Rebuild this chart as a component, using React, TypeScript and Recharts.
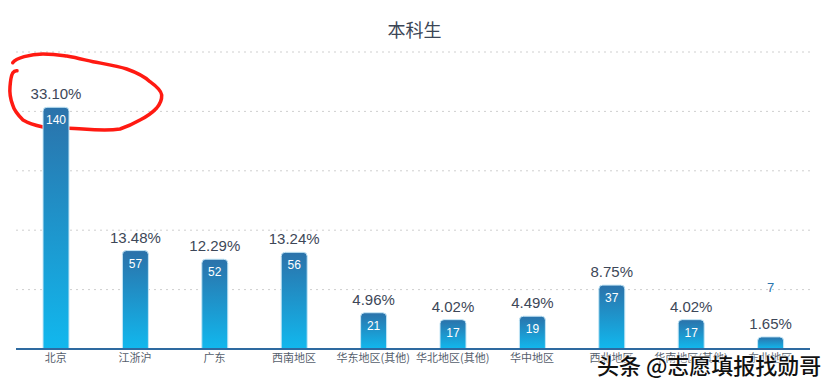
import React from "react";
import {
  BarChart,
  Bar,
  XAxis,
  YAxis,
  CartesianGrid,
  LabelList,
  Customized,
} from "recharts";

const categories = [
  "北京",
  "江浙沪",
  "广东",
  "西南地区",
  "华东地区(其他)",
  "华北地区(其他)",
  "华中地区",
  "西北地区",
  "华南地区(其他)",
  "东北地区",
];
const counts = [140, 57, 52, 56, 21, 17, 19, 37, 17, 7];
const percents = ["33.10%", "13.48%", "12.29%", "13.24%", "4.96%", "4.02%", "4.49%", "8.75%", "4.02%", "1.65%"];
const yTicks = [0, 34.4, 68.8, 103.2, 137.6, 172];

const data = categories.map((name, i) => ({ name, count: counts[i], pct: percents[i] }));

const NUM_FONT = "'Liberation Sans', Arial, 'Noto Sans CJK SC', sans-serif";
const CJK_FONT = "'Noto Sans CJK SC', 'Liberation Sans', sans-serif";

// 퍼센트 라벨 (막대 위)
const PctLabel = (props: any) => {
  const { x, y, width, value } = props;
  return (
    <text
      x={x + width / 2}
      y={y - 8}
      textAnchor="middle"
      fontSize={15}
      fontFamily={NUM_FONT}
      fill="#3d4758"
    >
      {value}
    </text>
  );
};

// 값 라벨: 막대 안쪽, 막대가 너무 짧으면 위쪽에 표시
const CountLabel = (props: any) => {
  const { x, y, width, height, value } = props;
  const small = height < 20;
  return (
    <text
      x={x + width / 2}
      y={small ? y - 45 : y + 17}
      textAnchor="middle"
      fontSize={small ? 13 : 12}
      fontFamily={NUM_FONT}
      fill={small ? "#2b74ad" : "#ffffff"}
    >
      {value}
    </text>
  );
};

// 손으로 그린 빨간 동그라미 표시
const RedCircle = () => (
  <path
    d="M12.7,62.7 C16,58 30,54 43,54 C55,54 60,55 66.7,56 C78,58 85,60 93,61.7 C105,64 118,66 126.7,69 C138,73 145,77 150,81.7 C156,86 161,90 161.7,95 C162,101 160,104 156.7,108 C152,113 146,117 140,120 C133,124 126,127 120,129 C108,131 95,130 83,129 C68,128 55,128 43,127 C34,125 28,123 23,120 C18,115 14,110 12.7,105 C10,98 9.5,92 10,86.7 C10.5,80 11,76 12.7,73 C14,71 15.5,70.5 17,70.7"
    fill="none"
    stroke="#ff1a12"
    strokeWidth={3.5}
    strokeLinecap="round"
    strokeLinejoin="round"
  />
);

export default function App() {
  return (
    <div
      style={{
        position: "absolute",
        left: 0,
        top: 0,
        width: 829,
        height: 387,
        background: "#ffffff",
        overflow: "hidden",
      }}
    >
      <div
        style={{
          position: "absolute",
          top: 16,
          left: 0,
          width: 829,
          textAlign: "center",
          fontFamily: CJK_FONT,
          fontSize: 18,
          color: "#3c4656",
        }}
      >
        本科生
      </div>
      <BarChart
        width={829}
        height={387}
        data={data}
        margin={{ top: 52, right: 19, bottom: 8, left: 16 }}
      >
        <defs>
          <linearGradient id="barGrad" x1="0" y1="0" x2="0" y2="1">
            <stop offset="0%" stopColor="#2b72aa" />
            <stop offset="100%" stopColor="#11b8ee" />
          </linearGradient>
        </defs>
        <CartesianGrid
          vertical={false}
          stroke="#cfcfcf"
          strokeDasharray="2 4"
        />
        <YAxis hide domain={[0, 172]} ticks={yTicks} />
        <XAxis
          dataKey="name"
          interval={0}
          tickLine={false}
          tickSize={0}
          tickMargin={5}
          height={30}
          axisLine={{ stroke: "#2e6aa0", strokeWidth: 2 }}
          tick={{ fontSize: 11, fill: "#555e6c", fontFamily: CJK_FONT }}
        />
        <Bar
          dataKey="count"
          barSize={26}
          fill="url(#barGrad)"
          stroke="#c4e6f6"
          strokeWidth={1}
          radius={[4, 4, 0, 0]}
          isAnimationActive={false}
        >
          <LabelList dataKey="pct" content={<PctLabel />} />
          <LabelList dataKey="count" content={<CountLabel />} />
        </Bar>
        <Customized component={RedCircle} />
      </BarChart>
      <div
        style={{
          position: "absolute",
          left: 597,
          top: 348,
          fontFamily: CJK_FONT,
          fontSize: 22,
          fontWeight: 500,
          color: "#111111",
          whiteSpace: "nowrap",
          textShadow: "0 0 2px #fff, 0 0 2px #fff, 0 0 3px #fff",
        }}
      >
        头条 @志愿填报找勋哥
      </div>
    </div>
  );
}
